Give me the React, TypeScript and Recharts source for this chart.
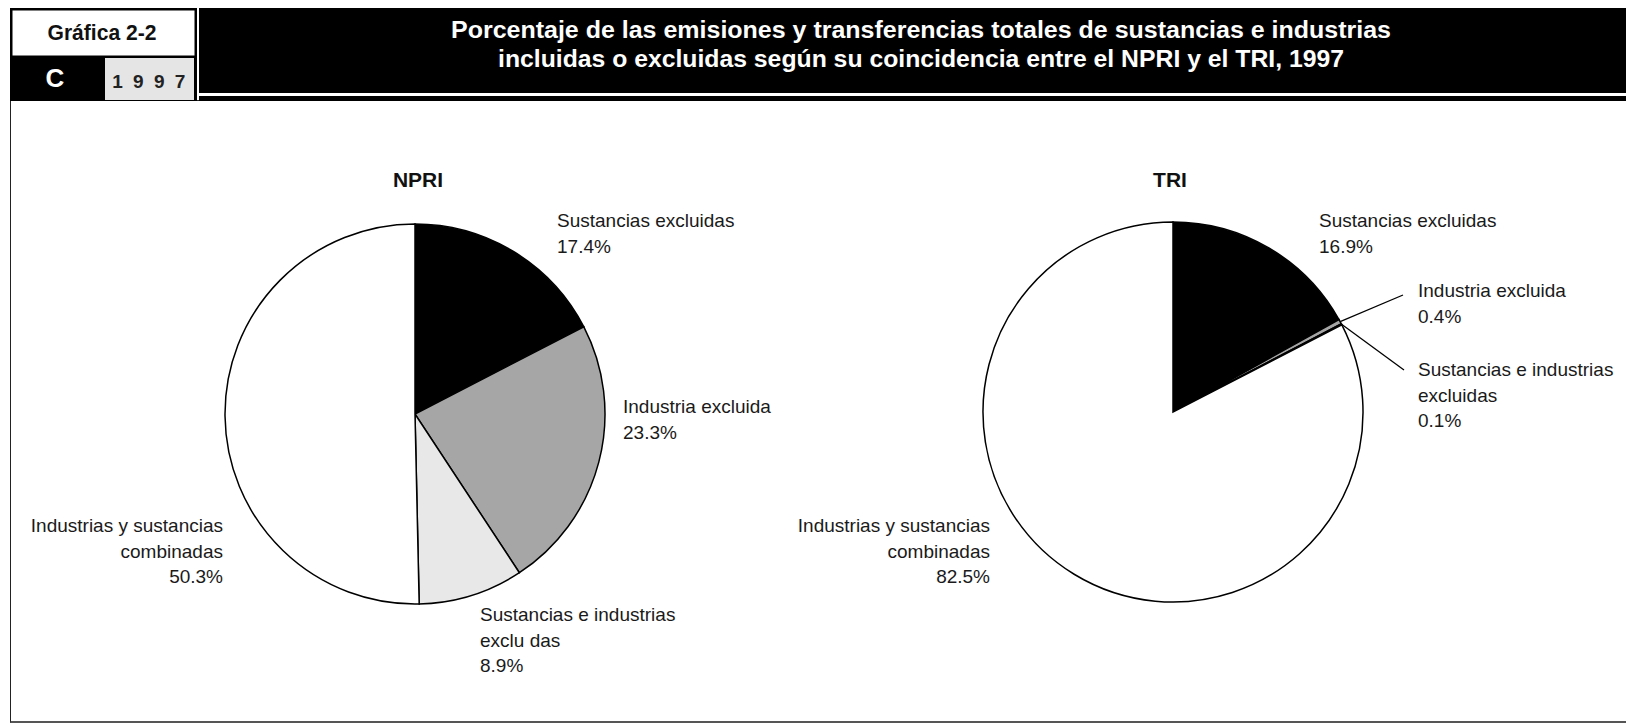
import React from "react"
import { Cell, Pie, PieChart } from "recharts"

// slice order: clockwise from 12 o'clock
const npriLabels = [
  ["Sustancias excluidas"],
  ["Industria excluida"],
  ["Sustancias e industrias", "exclu das"],
  ["Industrias y sustancias", "combinadas"],
]
const npriValues = [17.4, 23.3, 8.9, 50.3]

const triLabels = [
  ["Sustancias excluidas"],
  ["Industria excluida"],
  ["Sustancias e industrias", "excluidas"],
  ["Industrias y sustancias", "combinadas"],
]
const triValues = [16.9, 0.4, 0.1, 82.5]

const sliceColors = ["#000000", "#a6a6a6", "#e8e8e8", "#ffffff"]

const titleLines = [
  "Porcentaje de las emisiones y transferencias totales de sustancias e industrias",
  "incluidas o excluidas según su coincidencia entre el NPRI y el TRI, 1997",
]

const npriData = npriValues.map((value, i) => ({ name: npriLabels[i].join(" "), value }))
const triData = triValues.map((value, i) => ({ name: triLabels[i].join(" "), value }))

type LabelPos = { dx: number; dy: number; anchor?: "start" | "end"; line?: [number, number] }

const npriPos: LabelPos[] = [
  { dx: 142, dy: -187 },
  { dx: 208, dy: -1 },
  { dx: 65, dy: 207 },
  { dx: -192, dy: 118, anchor: "end" },
]
const triPos: LabelPos[] = [
  { dx: 146, dy: -185 },
  { dx: 245, dy: -115, line: [230, -117] },
  { dx: 245, dy: -36, line: [231, -42] },
  { dx: -183, dy: 120, anchor: "end" },
]

const FONT = "'Liberation Sans', Arial, sans-serif"
const NARROW = "'Liberation Sans Narrow', 'Arial Narrow', sans-serif"
const RAD = Math.PI / 180

function makeLabel(lines: string[][], values: number[], pos: LabelPos[]) {
  return (props: any) => {
    const { cx, cy, midAngle, outerRadius, index } = props
    const p = pos[index]
    const rows = [...lines[index], `${values[index].toFixed(1)}%`]
    const x = cx + p.dx
    const y = cy + p.dy
    let leader = null
    if (p.line) {
      const sx = cx + outerRadius * Math.cos(-midAngle * RAD)
      const sy = cy + outerRadius * Math.sin(-midAngle * RAD)
      leader = <line x1={sx} y1={sy} x2={cx + p.line[0]} y2={cy + p.line[1]} stroke="#000" strokeWidth={1.3} />
    }
    return (
      <g key={`lbl-${index}`}>
        {leader}
        <text x={x} y={y} textAnchor={p.anchor ?? "start"} fontFamily={FONT} fontSize={19} fill="#1a1a1a">
          {rows.map((r, i) => (
            <tspan key={i} x={x} dy={i === 0 ? 0 : 25.5}>
              {r}
            </tspan>
          ))}
        </text>
      </g>
    )
  }
}

function Header() {
  return (
    <svg width={1626} height={104} style={{ position: "absolute", left: 0, top: 0 }}>
      {/* left box */}
      <rect x={10} y={8} width={187} height={93} fill="#000" />
      <rect x={12.5} y={10.5} width={182} height={45} fill="#fff" />
      <text x={102} y={40} textAnchor="middle" fontFamily={NARROW} fontWeight="bold" fontSize={22} fill="#111" textLength={109} lengthAdjust="spacingAndGlyphs">
        Gráfica 2-2
      </text>
      <text x={55} y={87} textAnchor="middle" fontFamily={FONT} fontWeight="bold" fontSize={26} fill="#fff">
        C
      </text>
      <rect x={105} y={58} width={89} height={42} fill="#e5e5e5" />
      <text x={150} y={88} textAnchor="middle" fontFamily={FONT} fontWeight="bold" fontSize={19} letterSpacing={2.5} fill="#222">
        1 9 9 7
      </text>
      {/* title bar */}
      <rect x={199} y={8} width={1427} height={85} fill="#000" />
      <rect x={199} y={96} width={1427} height={5} fill="#000" />
      <text x={921} y={37.5} textAnchor="middle" fontFamily={NARROW} fontWeight="bold" fontSize={23} fill="#fff" textLength={940} lengthAdjust="spacingAndGlyphs">
        {titleLines[0]}
      </text>
      <text x={921} y={67} textAnchor="middle" fontFamily={NARROW} fontWeight="bold" fontSize={23} fill="#fff" textLength={846} lengthAdjust="spacingAndGlyphs">
        {titleLines[1]}
      </text>
    </svg>
  )
}

export default function App() {
  return (
    <div style={{ position: "absolute", left: 0, top: 0, width: 1626, height: 726, background: "#fff" }}>
      <div
        style={{
          position: "absolute",
          left: 10,
          top: 100,
          width: 1630,
          height: 620,
          borderLeft: "1.5px solid #222",
          borderTop: "1.5px solid #222",
          borderBottom: "2px solid #555",
        }}
      />
      <Header />
      <div style={{ position: "absolute", left: 0, top: 0 }}>
        <PieChart width={1626} height={726} margin={{ top: 0, right: 0, bottom: 0, left: 0 }}>
          <Pie
            data={npriData}
            dataKey="value"
            nameKey="name"
            cx={415}
            cy={414}
            outerRadius={190}
            startAngle={90}
            endAngle={-270}
            stroke="#000"
            strokeWidth={1.5}
            label={makeLabel(npriLabels, npriValues, npriPos)}
            labelLine={false}
            isAnimationActive={false}
          >
            {npriData.map((_, i) => (
              <Cell key={i} fill={sliceColors[i]} />
            ))}
          </Pie>
          <Pie
            data={triData}
            dataKey="value"
            nameKey="name"
            cx={1173}
            cy={412}
            outerRadius={190}
            startAngle={90}
            endAngle={-270}
            stroke="#000"
            strokeWidth={1.5}
            label={makeLabel(triLabels, triValues, triPos)}
            labelLine={false}
            isAnimationActive={false}
          >
            {triData.map((_, i) => (
              <Cell key={i} fill={sliceColors[i]} />
            ))}
          </Pie>
        </PieChart>
      </div>
      <div style={{ position: "absolute", left: 318, top: 168, width: 200, textAlign: "center", fontFamily: NARROW, fontWeight: "bold", fontSize: 21, color: "#111" }}>
        NPRI
      </div>
      <div style={{ position: "absolute", left: 1070, top: 168, width: 200, textAlign: "center", fontFamily: NARROW, fontWeight: "bold", fontSize: 21, color: "#111" }}>
        TRI
      </div>
    </div>
  )
}
